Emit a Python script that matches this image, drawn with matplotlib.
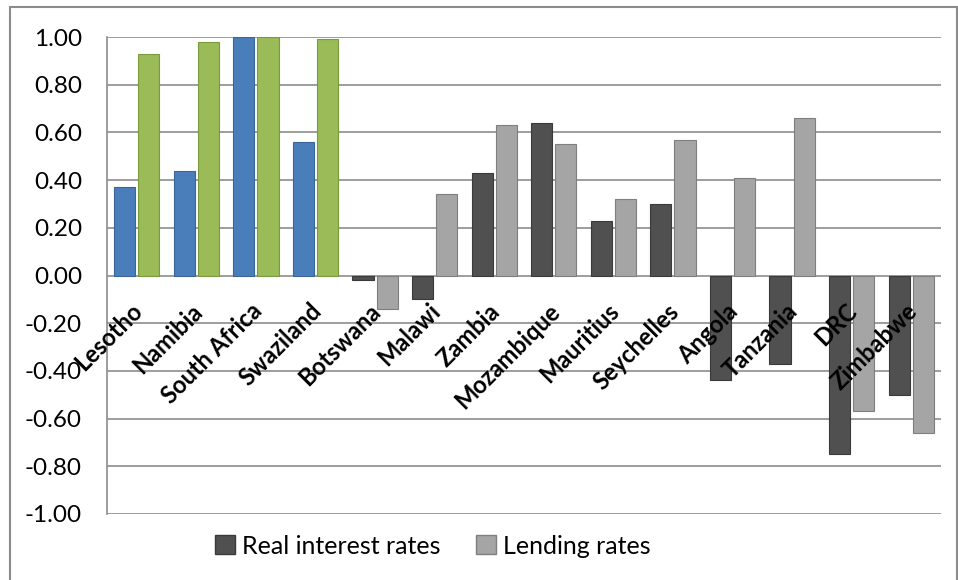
import numpy as np
import matplotlib
matplotlib.use('Agg')
import matplotlib.pyplot as plt
from matplotlib.patches import Rectangle
import matplotlib.transforms as mtransforms

plt.rcParams['font.family'] = ['Lato', 'DejaVu Sans']
plt.rcParams['axes.unicode_minus'] = False

# datos
paises = ['Lesotho', 'Namibia', 'South Africa', 'Swaziland', 'Botswana', 'Malawi',
          'Zambia', 'Mozambique', 'Mauritius', 'Seychelles', 'Angola', 'Tanzania',
          'DRC', 'Zimbabwe']
tasa_real = [0.37, 0.44, 1.00, 0.56, -0.02, -0.10, 0.43, 0.64, 0.23, 0.30,
             -0.44, -0.37, -0.75, -0.50]
tasa_prestamo = [0.93, 0.98, 1.00, 0.99, -0.14, 0.34, 0.63, 0.55, 0.32, 0.57,
                 0.41, 0.66, -0.57, -0.66]
series = ['Real interest rates', 'Lending rates']
yticks = [-1.0, -0.8, -0.6, -0.4, -0.2, 0.0, 0.2, 0.4, 0.6, 0.8, 1.0]

# colores: los 4 primeros paises (CMA) van en azul/verde
n_cma = 4
c_real = ['#4A7EBB'] * n_cma + ['#505050'] * (len(paises) - n_cma)
c_prest = ['#9BBB59'] * n_cma + ['#A5A5A5'] * (len(paises) - n_cma)
e_real = ['#3A6598'] * n_cma + ['#3A3A3A'] * (len(paises) - n_cma)
e_prest = ['#7A9A3E'] * n_cma + ['#7F7F7F'] * (len(paises) - n_cma)

fig = plt.figure(figsize=(9.58, 5.8), dpi=100)
ax = fig.add_axes([107/958, 1 - 514/580, (941 - 107)/958, (514 - 37)/580])

x = np.arange(len(paises))
w = 0.355
gap = 0.05
ax.bar(x - w/2 - gap/2, tasa_real, w, color=c_real, edgecolor=e_real, linewidth=0.8,
       zorder=3, label=series[0])
ax.bar(x + w/2 + gap/2, tasa_prestamo, w, color=c_prest, edgecolor=e_prest, linewidth=0.8,
       zorder=3, label=series[1])

ax.set_xlim(-0.5, len(paises) - 0.5)
ax.set_ylim(-1, 1)
ax.set_yticks(yticks)
ax.set_yticklabels(['%.2f' % v for v in yticks], fontsize=17.5)
ax.tick_params(axis='y', length=0, pad=18)
ax.set_xticks([])
ax.grid(axis='y', color='#8C8C8C', linewidth=1.2, zorder=0)
for s in ['top', 'right', 'bottom']:
    ax.spines[s].set_visible(False)
ax.spines['left'].set_color('#8C8C8C')
ax.spines['left'].set_linewidth(1.2)

# etiquetas de paises rotadas debajo del cero
off = mtransforms.ScaledTranslation(2/100, -32/100, fig.dpi_scale_trans)
for i, p in enumerate(paises):
    ax.text(i, 0, p, rotation=45, rotation_mode='anchor', ha='right', va='center',
            fontsize=17, fontweight='bold', transform=ax.transData + off, zorder=5)

# leyenda
h = [Rectangle((0, 0), 1, 1, fc='#505050', ec='#3A3A3A'),
     Rectangle((0, 0), 1, 1, fc='#A5A5A5', ec='#7F7F7F')]
fig.legend(h, series, loc='center', bbox_to_anchor=(433/958, 1 - 546/580), ncol=2,
           frameon=False, fontsize=18, handlelength=0.8, handleheight=0.8,
           handletextpad=0.3, columnspacing=1.4)

# marco exterior
fig.patches.append(Rectangle((10/958, -0.05), (957 - 10)/958, 1.05 - 7/580,
                             transform=fig.transFigure, fill=False, ec='#8C8C8C', lw=1.5))

plt.savefig('out.png', dpi=100)
